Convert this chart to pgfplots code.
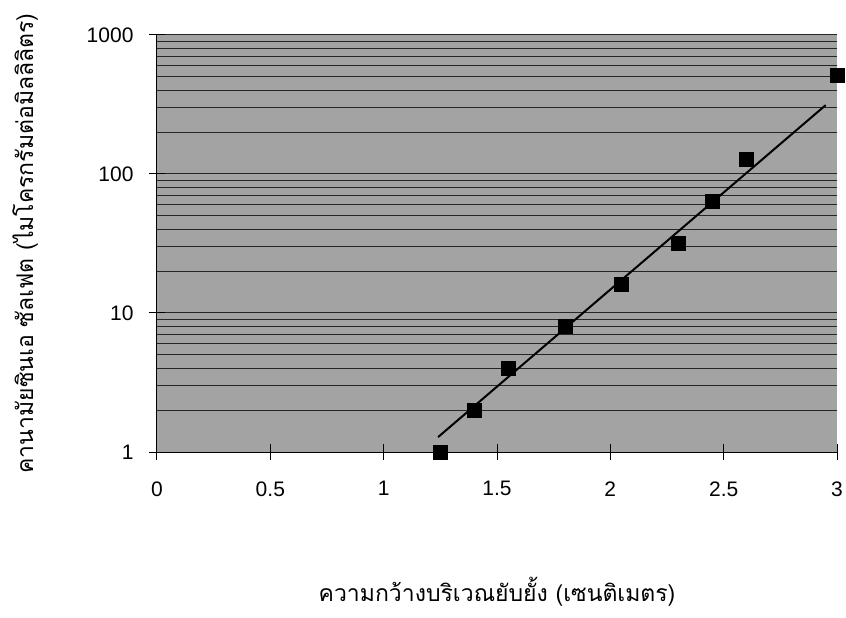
\documentclass[border=0pt]{standalone}
\usepackage{fontspec}
\setmainfont{Liberation Sans}
\newfontfamily\thaifont[Script=Thai]{Loma}
\usepackage{pgfplots}
\pgfplotsset{compat=1.18}

\begin{document}
\begin{tikzpicture}
\path[use as bounding box] (-157pt,-166pt) rectangle (689pt,452pt);
\begin{axis}[
  at={(0,0)}, anchor=south west,
  scale only axis,
  width=680pt, height=417pt,
  xmin=0, xmax=3,
  ymode=log, ymin=1, ymax=1000,
  axis x line*=bottom, axis y line*=left,
  axis line style={black, line width=1pt},
  axis background/.style={fill=black!36},
  xtick={0,0.5,1,1.5,2,2.5,3},
  xticklabels={0,0.5,1,1.5,2,2.5,3},
  ytick={1,10,100,1000},
  yticklabels={1,10,100,1000},
  minor ytick={2,3,4,5,6,7,8,9,20,30,40,50,60,70,80,90,200,300,400,500,600,700,800,900},
  ymajorgrids, yminorgrids,
  major grid style={black!85, line width=1pt},
  minor grid style={black!85, line width=1pt},
  tick align=center,
  major tick length=16pt,
  minor tick length=0pt,
  tick style={black, line width=1pt},
  tick label style={font=\fontsize{21}{25}\selectfont},
  xticklabel style={yshift=-18pt},
  yticklabel style={xshift=-12pt},
  clip=false,
  xlabel={\thaifont ความกว้างบริเวณยับยั้ง (เซนติเมตร)},
  ylabel={\thaifont คานามัยซินเอ ซัลเฟต (ไมโครกรัมต่อมิลลิลิตร)},
  xlabel style={font=\fontsize{23}{27}\selectfont, at={(axis description cs:0.5,-0.335)}, anchor=center},
  ylabel style={font=\fontsize{23}{27}\selectfont, at={(axis description cs:-0.194,0.5)}, anchor=center},
]
% trend line
\addplot[black, line width=2pt, no marks] coordinates {(1.24,1.28) (2.95,313)};
% measured points
\addplot[only marks, mark=square*, mark size=7pt, mark options={fill=black, draw=black}]
  coordinates {
    (1.25,1) (1.4,2) (1.55,4) (1.8,8) (2.05,16)
    (2.3,32) (2.45,64) (2.6,128) (3.0,512)
  };
\end{axis}
\end{tikzpicture}
\end{document}
